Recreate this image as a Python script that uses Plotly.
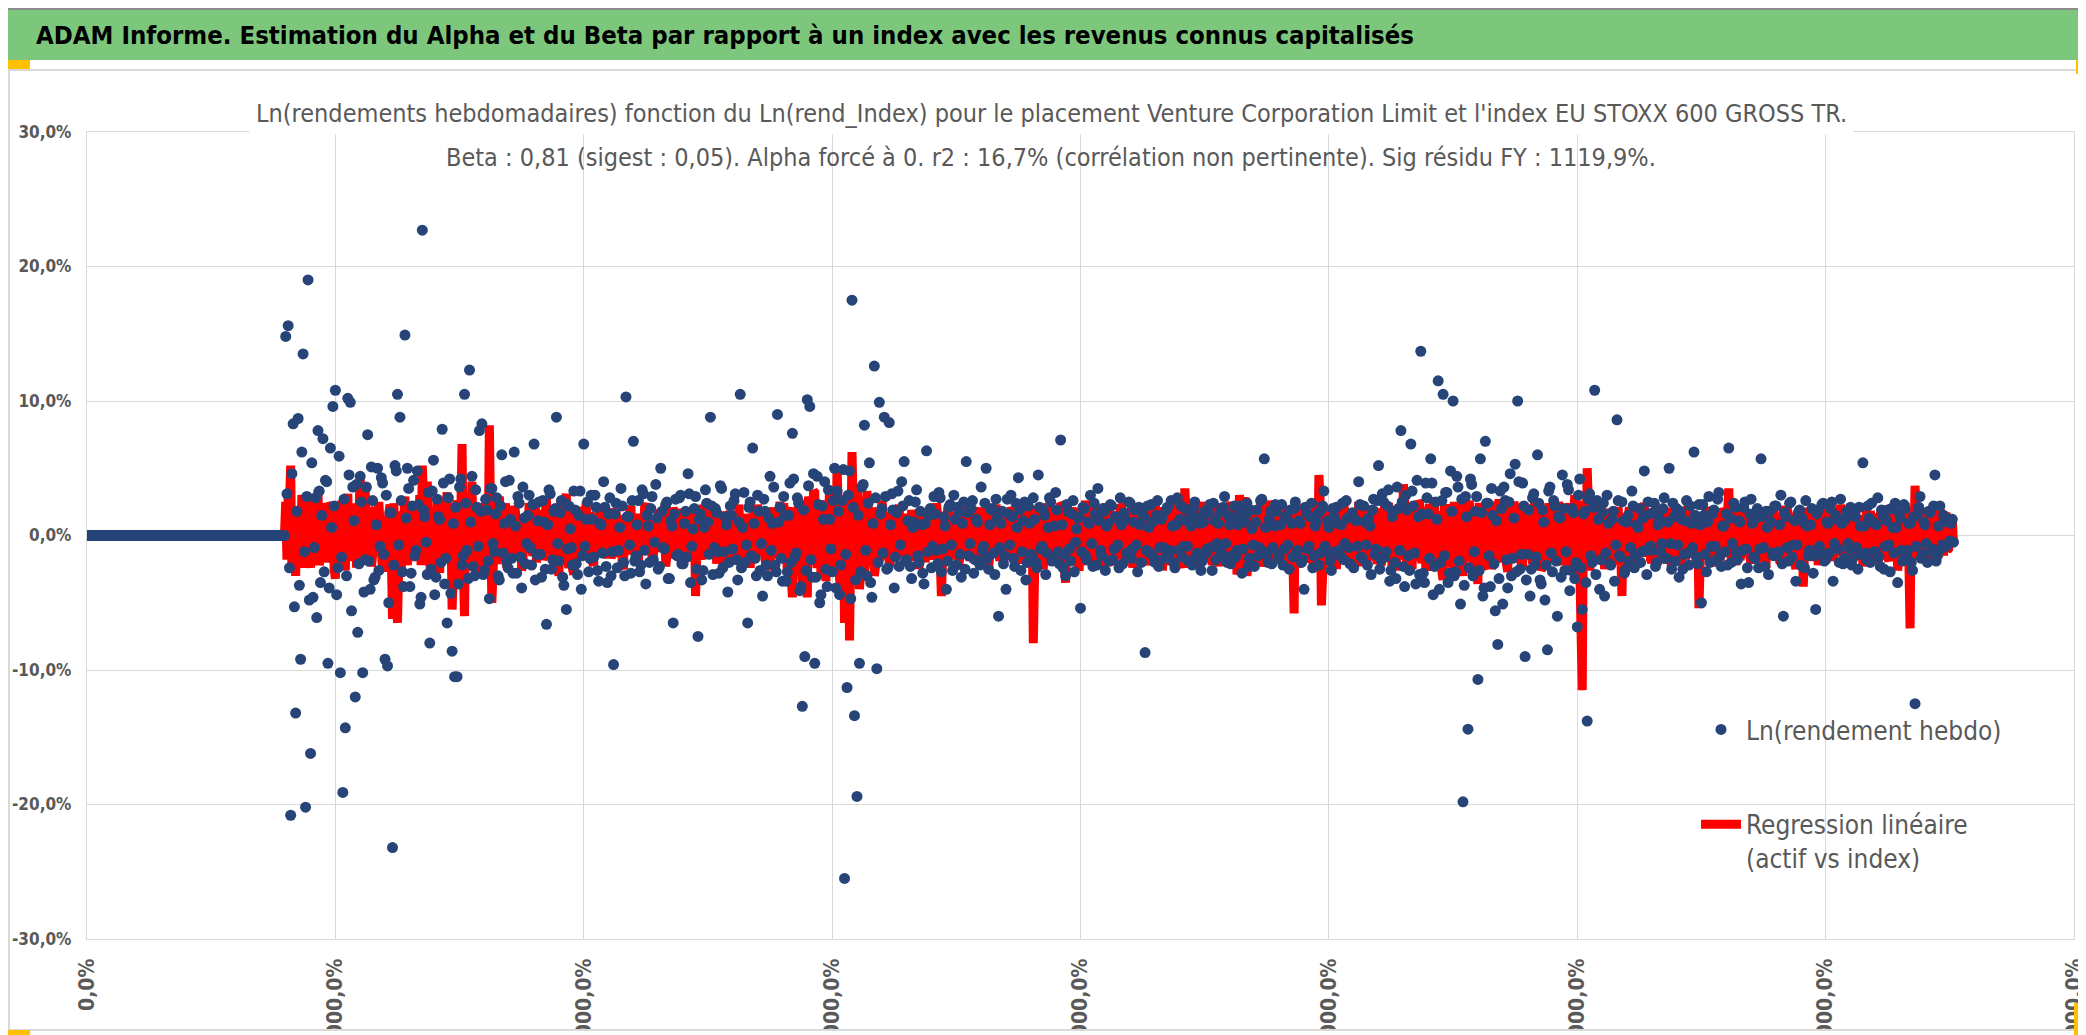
"""ADAM report: weekly log-returns of an asset against an index, with the beta regression line."""

import plotly.graph_objects as go

# ---------------------------------------------------------------- texts
HEADER_TEXT = ("ADAM Informe. Estimation du Alpha et du Beta par rapport à un index "
               "avec les revenus connus capitalisés")
TITLE_LINE_1 = ("Ln(rendements hebdomadaires) fonction du Ln(rend_Index) pour le placement "
                "Venture Corporation Limit et l'index EU STOXX 600 GROSS TR.")
TITLE_LINE_2 = ("Beta : 0,81 (sigest : 0,05). Alpha forcé à 0. r2 : 16,7% "
                "(corrélation non pertinente). Sig résidu FY : 1119,9%.")
NAME_ASSET = "Ln(rendement hebdo)"
NAME_REGRESSION = "Regression linéaire<br>(actif vs index)"

# ---------------------------------------------------------------- axes
Y_TICKS = [-30, -20, -10, 0, 10, 20, 30]
Y_TICK_LABELS = ["-30,0%", "-20,0%", "-10,0%", "0,0%", "10,0%", "20,0%", "30,0%"]
X_TICKS = [0, 200, 400, 600, 800, 1000, 1200, 1400, 1600]
X_TICK_LABELS = ["0,0%", "20000,0%", "40000,0%", "60000,0%", "80000,0%",
                 "100000,0%", "120000,0%", "140000,0%", "160000,0%"]

# ---------------------------------------------------------------- data (in %)
PRE_LISTING_WEEKS = 160    # returns are 0 before the asset has prices

# asset weekly log-returns, even weeks after listing
asset_even_weeks = [
    14.8, 15.6, -20.8, 8.3, -13.2, 8.7, -9.2, 13.5, -20.2, 19.0,
    -16.2, -4.6, 2.8, 7.8, -3.5, 7.2, 4.1, -9.5, 6.5, 9.6,
    10.8, -2.4, -10.2, -19.1, -14.3, 10.2, 9.9, 3.6, -12.0, -7.2,
    4.4, -10.2, -1.8, 7.5, -4.0, 2.6, -3.1, 5.0, -0.8, 3.9,
    -9.2, -9.7, 1.7, -23.2, 5.2, 10.5, 8.8, -2.7, 14.9, 5.0,
    -3.8, 2.2, -1.5, 4.8, -5.1, 22.7, 1.4, -2.9, -8.0, 3.3,
    -4.4, 2.7, 1.2, 7.9, -3.6, -6.5, 4.2, -8.6, -10.5, -10.5,
    3.6, -2.2, 10.5, -1.1, 12.3, 4.4, -3.0, 2.1, 7.8, 8.3,
    -2.6, 1.9, -4.7, 3.5, -1.2, 2.8, -3.3, 6.0, 0.9, -2.0,
    4.1, -1.7, 6.2, -2.8, 2.4, -3.9, 1.3, -0.6, 3.0, -2.2,
    6.8, -1.4, 2.5, -3.1, 1.0, -6.6, 3.4, -2.5, 1.8, 8.8,
    -1.9, 2.6, -3.7, -5.5, 2.2, -0.9, 3.3, -2.1, 1.5, -4.0,
    6.8, 1.2, -2.7, 3.0, -1.6, 2.1, -3.4, 0.8, 4.0, -2.3,
    1.6, -3.0, -9.6, 2.4, -1.1, 3.5, -2.0, 10.3, 1.4, -2.8,
    7.0, -1.5, 2.6, -2.2, 3.1, -3.6, 0.7, 2.0, -1.8, 3.8,
    -2.5, 5.0, -0.9, 2.3, -3.2, 1.1, -6.5, 2.7, -1.4, 3.0,
    -2.1, 1.8, 4.6, -3.5, 0.5, 2.9, -7.5, 1.6, -2.6, 3.4,
    1.0, 8.8, -2.9, 2.0, -1.2, 3.7, -2.4, 1.4, -4.2, 2.2,
    -1.0, 3.1, -3.3, 10.5, 0.6, -2.0, -6.5, 2.5, 6.5, -1.7,
    3.0, -2.6, -4.5, 1.8, -3.0, 4.4, 0.9, -2.2, 9.0, 2.1,
    -3.4, 1.5, -2.7, 3.9, 7.6, -1.6, 2.8, -4.1, -12.7, -9.0,
    10.1, 9.6, -3.1, -9.5, 4.4, -5.0, 2.2, 4.0, -3.8, 1.2,
    -2.7, 5.0, 3.3, -4.4, 2.6, -25.5, -11.3, 4.8, 17.5, -13.4,
    -19.4, -9.5, 3.6, 8.2, -3.0, 5.4, -4.6, 12.6, -9.9, 9.9,
    2.0, 8.8, -2.5, 8.4, 3.1, -3.9, 1.7, -2.3, 4.0, 5.5,
    -1.8, 2.6, -3.2, 1.0, 3.4, -2.0, 0.8, -3.6, 6.3, 1.5,
    -2.4, 2.9, -1.1, 3.2, -2.7, 1.4, -4.0, 2.1, -0.7, 3.0,
    -2.2, 1.7, -3.1, 2.5, 5.5, -1.5, 2.0, -2.8, 1.2, -1.9,
    3.6, -0.8, 5.0, -2.5, 1.9, -1.3, 2.7, -6.0, 0.9, -2.1,
    -4.0, 1.6, 3.0, -1.7, 2.4, 4.3, -2.6, 1.1, -3.3, 2.2,
    -1.4, 2.8, -2.0, 4.5, -1.0, 1.9, -2.9, 0.6, 2.5, -1.6,
    3.2, -1.2, 7.1, -2.4, -3.0, 1.8, -1.9, 2.6, -0.5, 1.3,
    -5.4, 2.1, -1.5, 1.0, 3.0, -2.3, 1.6, 3.5, -1.1, 2.0,
    -2.6, 0.9, 2.3, -1.8, 1.4, -0.7, 2.8, -2.1, 1.2, -1.5,
    2.4, -1.0, 1.9, -2.7, 0.8, 1.6, -8.7, 2.2, -1.3, 1.0,
    -2.0, 2.6, -0.9, 1.5, -1.7, 2.1, -1.1, 0.7, -2.4, 2.8,
    1.2, -1.6, 2.0, -0.8, 1.4, -2.2, 2.5, -1.3, 0.9, -1.9,
    1.8, -1.0, 2.3, -2.6, 1.1, -0.6, 1.7, -1.4, 2.9, -2.0,
    0.8, -1.5, 2.2, -1.1, 1.6, -2.8, 1.0, 2.4, -1.7, 0.5,
    -2.3, 1.9, -0.9, 2.7, 5.7, -1.4, 1.2, -2.1, 0.7, 1.8,
    -1.6, 2.3, -1.0, 1.5, -2.5, 0.9, 2.0, -1.3, 1.1, -2.0,
    -4.0, 1.7, -0.8, 2.4, -1.5, 1.0, -2.2, 1.9, 3.3, -1.2,
    0.6, -2.6, 1.4, 2.1, -1.1, 0.8, -1.8, 2.6, -0.9, 1.5,
    -2.4, 1.1, 4.0, -1.6, 2.2, -0.7, 1.3, -2.9, 2.7, -1.0,
    5.2, -1.8, 2.5, -1.2, 3.4, -2.6, 1.8, -3.2, 2.0, 7.8,
    -2.3, 3.0, -1.5, 6.8, 2.2, -3.6, 1.4, 13.7, -2.8, 3.9,
    1.6, 5.7, -4.4, 2.5, 11.5, -2.0, 10.5, 3.2, -3.5, 4.8,
    10.0, -2.7, 3.6, -5.1, -19.8, 2.9, -14.4, 4.2, -3.0, 1.8,
    -10.7, 5.7, -4.5, 7.0, 2.4, -3.8, 1.5, -5.6, -8.1, 3.3,
    -5.1, 2.6, -3.9, 4.6, -1.7, 5.3, 10.0, -2.5, 3.9, -9.0,
    -1.4, -4.5, 2.8, -2.2, 6.0, -3.3, 1.9, -4.8, -8.5, 3.6,
    -2.7, 2.2, -6.0, 1.3, 4.5, -2.6, 3.8, -4.1, 2.0, -3.2,
    -6.8, 4.2, -5.5, 1.8, -13.8, 3.1, -2.0, 10.8, 2.6, -4.0,
    1.7, -4.5, 3.0, -2.1, 1.2, -3.4, 8.6, -1.5, 2.5, -2.8,
    1.0, -1.9, 3.3, -2.4, 0.8, 2.0, -1.2, 4.8, -2.9, 1.6,
    -1.1, 2.4, -2.0, 1.3, -0.6, 2.8, -1.7, 5.0, -2.5, 1.4,
    2.0, -3.1, 1.2, -1.4, 2.6, -2.2, 0.9, 6.2, -1.6, 2.3,
    -5.0, 1.5, -2.7, 2.9, -0.8, 1.9, -1.8, 3.2, -2.3, 0.7,
    1.6, 6.5, -2.0, 2.4, -1.3, 1.1, -3.6, 2.1, -1.0, -3.5,
    2.7, -1.6, 1.3, -2.4, 5.7, -0.9, 1.8, -2.9, 1.0, -1.5,
    2.2, -1.2, 3.0, -6.0, 1.4, -1.9, 2.5, -0.7, -3.4, 1.7,
    -2.2, 1.0, 2.6, -1.5, 0.8, -2.8, -5.5, 1.9, -1.3, 2.4,
    -1.8, 0.9, 2.0, -3.4, 1.5, -1.0, 2.7, -2.1, 1.2, -0.6,
    2.1, -1.7, 1.4, -2.5, 0.7, 5.4, -1.3, 2.2, -2.0, 1.0,
    -1.2, 2.8, -2.3, 1.5, -0.8, 1.9, -2.7, 0.6, 2.4, -3.5,
    1.3, -1.9, 2.0, -1.1, 0.9, -2.6, -12.5, 1.6, 2.9, -1.4,
    0.8, -2.0, 1.7, -1.0, 4.5, -1.5, 2.2, -0.7, 1.3, 1.0,
    -0.4, 1.2,
]

# asset weekly log-returns, odd weeks after listing
asset_odd_weeks = [
    3.1, -2.4, 4.6, -5.3, 1.8, -3.7, 6.2, -1.2, 2.9, -4.8,
    5.4, -0.9, -6.1, 3.3, 1.5, -2.7, 4.0, -3.9, 0.6, 2.2,
    -4.4, 5.9, -1.6, 2.7, -3.0, 4.5, -5.6, 1.1, 3.8, -2.1,
    2.5, -4.2, 3.6, -1.9, 5.1, -3.3, 0.8, -2.6, 4.3, -1.4,
    3.0, -5.0, 1.7, -2.2, 4.8, -0.7, 2.6, -3.8, 1.3, 3.5,
    -2.8, 4.1, -1.1, 2.3, -4.6, 1.9, -0.5, 3.2, -2.5, 5.6,
    -3.1, 1.4, -2.0, 3.9, -1.7, 2.8, -4.3, 0.9, 2.1, -3.6,
    4.2, -1.5, 2.4, -3.2, 1.0, -2.3, 3.4, -0.8, 1.8, -2.9,
    2.7, -1.9, 3.5, -0.6, 1.6, -3.0, 2.2, -1.3, 4.0, -2.4,
    1.2, -2.8, 0.7, 2.9, -1.6, 3.6, -2.1, 1.5, -0.9, 2.3,
    -3.3, 1.1, -1.4, 2.6, -2.5, 0.8, 3.1, -1.8, 2.0, -0.6,
    1.7, -3.1, 2.4, -1.0, 0.5, -2.2, 1.9, -2.9, 3.3, -1.5,
    -0.8, 2.5, -1.7, 1.2, 3.0, -2.6, 0.9, -1.3, 2.1, -3.5,
    2.8, -1.2, 1.6, -2.4, 0.6, 2.2, -3.0, 1.4, -0.7, 2.6,
    -1.9, 0.8, -2.7, 3.4, -1.1, 1.5, -2.0, 2.9, -0.5, 1.3,
    -2.3, 1.8, -1.0, 2.5, -3.2, 0.7, 1.6, -1.5, 2.8, -2.1,
    0.9, -1.6, 3.1, -0.8, 2.0, -2.5, 1.2, -3.3, 0.6, 2.4,
    -1.4, 2.2, -0.9, 1.7, -2.8, 3.5, -1.2, 0.8, -2.0, 1.5,
    2.6, -1.8, 1.0, -2.4, 3.2, -0.7, 2.1, -1.5, 0.9, -3.0,
    1.8, -0.6, 2.7, -2.2, 1.3, -1.1, 3.6, -2.7, 1.0, -1.7,
    2.9, -3.4, 1.5, -2.0, 4.2, -1.3, 2.4, -3.8, 1.9, -2.6,
    3.7, -1.8, 4.6, -3.1, 2.3, -4.4, 1.2, -2.5, 3.4, -1.0,
    2.6, -3.9, 1.8, -2.2, 4.9, -1.4, 3.0, -4.7, 2.1, -3.3,
    1.5, -2.7, 3.8, -1.1, 2.4, -3.5, 0.9, 2.8, -2.0, 1.6,
    -1.3, 2.9, -2.4, 0.8, 1.9, -1.6, 3.3, -0.7, 2.2, -1.9,
    1.1, -2.3, 0.6, 2.5, -1.5, 1.8, -2.8, 0.9, -1.2, 2.0,
    -0.8, 1.6, -2.1, 2.8, -1.0, 0.7, -1.9, 2.3, -2.6, 1.2,
    2.1, -1.4, 0.9, -2.5, 1.7, -0.6, 2.6, -1.8, 1.0, -2.2,
    -1.1, 2.4, -1.7, 0.8, 2.0, -2.9, 1.3, -0.9, 1.8, -1.5,
    2.7, -0.7, 1.4, -2.3, 0.6, 1.9, -1.2, 2.5, -2.0, 0.9,
    -1.6, 1.2, -2.4, 2.1, -0.8, 1.5, -1.3, 2.8, -1.9, 0.7,
    1.9, -2.1, 0.8, -1.4, 2.3, -1.0, 1.6, -2.7, 0.5, 1.4,
    -1.2, 2.0, -1.8, 0.9, -0.6, 2.4, -2.2, 1.1, -1.5, 1.8,
    0.7, -1.9, 2.2, -1.0, 1.3, -2.4, 0.8, 1.7, -1.3, 2.5,
    -1.7, 1.0, -0.7, 2.1, -2.0, 1.4, -1.1, 0.6, 2.3, -1.6,
    1.5, -2.3, 1.2, -0.9, 1.9, -1.4, 2.6, -2.0, 0.8, -1.1,
    2.2, -0.8, 1.1, -1.9, 0.7, 2.0, -1.5, 1.3, -2.6, 1.0,
    -1.3, 1.7, -0.9, 2.4, -1.8, 0.9, -1.2, 2.1, -0.6, 1.5,
    -2.1, 1.2, -1.6, 0.8, 2.2, -1.0, 1.5, -2.3, 1.9, -0.7,
    1.0, -1.5, 2.6, -1.2, 0.6, -2.0, 1.8, -0.9, 2.3, -1.4,
    0.8, -2.2, 1.3, -0.7, 1.9, -1.6, 2.5, -1.1, 0.9, -1.8,
    2.1, -1.0, 1.4, -2.4, 0.7, 1.6, -1.3, 2.2, -0.8, 1.1,
    -1.9, 2.0, -1.2, 0.9, -1.5, 2.4, -0.6, 1.3, -2.1, 1.7,
    1.2, -0.8, 2.3, -1.7, 1.0, -2.2, 0.7, 1.9, -1.4, 2.6,
    -2.5, 3.1, -1.6, 2.2, -3.4, 1.4, -2.0, 3.6, -1.1, 2.5,
    -3.8, 1.9, -2.6, 3.3, -1.3, 4.1, -2.9, 1.6, -3.5, 2.8,
    -1.7, 3.9, -2.3, 1.2, -4.0, 2.6, -1.5, 3.2, -2.8, 1.8,
    -3.0, 4.4, -1.9, 2.7, -3.7, 1.4, -2.4, 3.8, -1.2, 2.9,
    -2.6, 1.7, -3.9, 2.4, -1.5, 3.5, -2.1, 1.1, -3.2, 2.0,
    3.6, -1.8, 2.5, -3.0, 1.3, -2.7, 4.0, -1.4, 2.2, -3.3,
    1.9, -2.5, 3.1, -1.6, 2.4, -3.6, 1.0, -2.2, 3.3, -1.3,
    2.6, -1.9, 1.4, -3.1, 2.0, -1.2, 3.4, -2.6, 1.7, -2.0,
    3.0, -2.4, 1.6, -3.5, 2.7, -1.5, 2.1, -2.9, 1.2, -1.8,
    2.4, -1.3, 0.9, -2.2, 1.8, -0.7, 2.6, -1.6, 1.1, -2.5,
    1.5, -0.9, 2.2, -1.4, 0.6, -2.0, 1.3, -1.1, 2.5, -0.8,
    1.7, -2.3, 0.8, -1.2, 2.0, -1.7, 1.0, -0.6, 2.4, -1.9,
    -0.7, 1.8, -2.5, 1.1, -1.3, 2.2, -0.9, 1.5, -2.1, 0.8,
    2.3, -1.4, 1.0, -2.0, 1.6, -0.8, 2.7, -1.5, 0.7, -1.2,
    -2.2, 1.3, -0.6, 2.1, -1.8, 1.0, -1.1, 2.5, -2.4, 1.6,
    0.9, -1.7, 2.0, -1.0, 1.4, -2.3, 0.6, 1.8, -1.3, 2.2,
    -1.5, 0.8, -2.1, 1.7, -0.9, 2.4, -1.6, 1.1, -0.7, 1.9,
    1.3, -2.4, 0.7, -1.1, 2.0, -1.5, 1.6, -0.8, 2.3, -1.9,
    1.0, -1.3, 2.5, -0.6, 1.2, -2.0, 0.9, -1.7, 1.8, -1.0,
    -2.2, 1.5, -0.9, 2.1, -1.4, 0.7, -1.8, 1.3, 2.4, -1.2,
    0.8, -1.6, 1.9, -2.5, 1.1, -0.7, 2.0, -1.3, 0.6, 1.7,
    -1.1, 2.3, -1.5, 0.9, -2.0, 1.4, -0.8, 2.1, -1.7, 1.0,
    -0.6, 1.8, -1.2, 2.2, -1.9, 0.7, -1.0, 1.5, -0.8, 1.2,
    0.9, -0.5,
]

# beta x index log-return, even weeks after listing
regression_even_weeks = [
    2.5, 3.0, 5.2, -1.5, -3.0, 1.8, -2.2, 2.6, -1.0, 1.5,
    -2.4, 1.2, -0.8, 3.4, -1.6, 0.9, -2.0, 2.2, -1.1, 1.7,
    -3.2, 2.0, -1.4, 0.8, -2.6, 3.1, 1.0, -1.8, 2.4, -0.9,
    4.5, -1.2, 3.5, -2.1, 0.7, -1.5, 2.1, -0.6, 1.4, -2.7,
    1.1, -1.9, 2.3, -6.2, 0.9, -6.5, 1.8, -1.0, 2.9, -2.2,
    1.3, -0.8, 2.0, -1.7, 3.0, 5.2, -1.4, 4.0, -2.3, 1.6,
    -1.1, 2.5, -2.8, 1.7, -0.9, 3.2, -2.0, -5.5, 1.2, 2.6,
    -3.4, 6.8, -6.0, 1.9, -1.5, 4.0, -2.5, 1.1, -3.0, 2.2,
    -1.3, 2.7, 8.2, -5.0, 1.4, -2.1, 2.9, -1.0, 1.6, -2.4,
    0.8, -1.4, 2.2, -0.7, 1.5, -2.6, 1.0, -1.2, 2.4, -0.9,
    1.3, -2.0, 0.6, 1.9, -1.5, 2.7, -1.1, 0.9, -2.3, 1.6,
    -3.0, 2.8, -1.6, 3.1, -2.4, 1.2, -2.9, 2.0, -0.8, 1.7,
    -1.8, 2.5, -1.0, 1.4, -2.2, 0.7, 1.8, -1.3, 2.1, -0.9,
    1.2, -1.7, 0.8, 2.0, -1.1, 1.5, -2.5, 0.9, -1.4, 2.2,
    -0.7, 1.6, -2.0, 1.1, -1.3, 2.4, -0.9, 1.0, -1.8, 0.6,
    1.9, -1.2, 0.8, -2.3, 1.4, -0.8, 2.1, -1.5, 0.7, -1.9,
    1.3, -1.0, 2.0, -1.6, 0.9, -4.5, 1.5, -1.1, 2.3, -0.8,
    1.1, -1.7, 0.6, 2.2, -1.3, 1.4, -2.1, 0.9, -1.0, 1.8,
    -1.4, 0.7, 2.0, -1.9, 1.2, -0.9, 1.6, -2.4, 1.0, -1.2,
    2.3, -1.5, 0.8, -1.8, 1.4, -2.6, 1.9, -1.1, 0.9, 2.5,
    -2.0, 1.3, -2.8, 2.1, -4.6, 1.5, -3.0, 2.4, -3.8, 1.2,
    -4.6, 2.0, -1.5, 3.2, -2.4, 1.0, -3.1, 2.6, -1.2, 3.5,
    -2.7, 1.8, 5.0, -3.3, 2.2, -6.5, 3.0, -7.8, 6.2, -2.9,
    3.5, -4.0, 2.1, -2.6, 3.3, -1.4, 2.0, -3.0, 1.5, -1.8,
    2.6, -1.1, 1.7, -2.3, 0.9, 1.4, -1.6, 2.2, -1.0, 1.3,
    -2.1, 0.8, 1.9, -1.4, 1.1, -2.5, 1.6, -0.9, 2.0, -1.3,
    1.0, -1.8, 2.4, -1.2, -4.5, 1.5, -1.0, 2.1, -1.6, 0.8,
    1.7, -2.2, 1.2, -0.9, 2.6, -1.5, 1.0, -2.0, 1.4, -1.1,
    2.0, -1.6, 0.9, -2.4, 1.8, -1.0, 2.3, -1.4, 0.7, -2.0,
    1.5, -1.2, 2.1, -1.8, 1.1, -0.8, 2.7, -1.6, 1.3, -2.2,
    0.9, -8.0, 2.0, -1.4, 1.6, -2.5, 1.2, -0.9, 2.2, -1.3,
    1.0, -1.9, 2.4, -1.1, -3.5, 1.7, -1.5, 0.8, 2.0, -2.3,
    1.4, -1.0, 2.6, -1.7, 1.1, -2.1, 1.9, -0.8, 1.3, -1.6,
    2.1, -1.2, 0.9, -2.0, 1.6, -1.4, 2.3, -0.9, 1.2, -1.8,
    1.5, -2.4, 1.0, -1.1, 2.0, -1.6, 0.8, -2.2, 1.7, -1.0,
    2.4, -1.3, 1.1, -2.6, 1.8, -0.9, 1.4, -1.9, 2.2, -1.2,
    1.0, -2.0, 3.5, -1.5, 1.9, -1.1, 2.5, -2.4, 1.3, -0.8,
    2.0, -1.7, 1.2, -2.2, 1.6, -1.0, 2.4, -1.4, 0.9, -2.0,
    1.7, -1.2, 2.2, -2.9, 3.0, -2.5, 2.6, -3.0, 1.4, -1.6,
    2.1, -1.0, 1.5, -2.3, 1.1, -1.8, 2.6, -1.3, 0.8, -2.1,
    1.6, -1.4, 2.0, -1.1, 1.3, -2.4, -5.8, 1.9, -1.2, 2.3,
    -1.5, 1.0, -2.0, 1.7, -1.3, 2.2, 4.5, -5.2, 1.4, -1.9,
    2.0, -1.1, 1.6, -2.5, 0.9, -1.4, 2.3, -1.0, 1.2, -1.7,
    1.8, -1.3, 2.5, -0.9, 1.1, -2.0, 1.5, -1.2, 2.1, -1.6,
    1.3, -2.2, 1.0, -1.5, 2.4, -1.1, 1.7, -2.6, 1.2, 2.0,
    3.8, -1.4, 2.2, -2.0, 1.5, -1.1, 2.6, -1.7, 1.0, -2.3,
    1.9, -1.2, 2.4, -1.6, 1.3, -2.1, -3.3, 2.0, -1.0, 1.6,
    -2.5, 1.2, 2.3, -1.4, -3.0, 2.7, -1.8, 1.1, -2.2, 1.5,
    -3.6, 2.1, -1.3, 1.8, -2.4, 1.0, -1.7, 2.5, -2.0, 1.3,
    -1.2, 2.2, -2.7, 1.6, -1.0, 2.0, -1.5, 1.2, -2.3, 1.9,
    -1.6, 1.1, -2.1, 2.6, -1.3, 1.5, -2.4, 1.0, -2.0, 1.8,
    -1.4, 2.3, -1.1, 1.6, -2.2, 1.2, -1.7, 2.4, -1.0, 3.0,
    -1.5, -7.0, -11.5, 2.0, 5.0, -2.6, 1.8, -1.4, 2.2, -1.8,
    1.4, -2.5, 1.1, -1.6, 2.0, -1.0, 1.7, -2.2, -4.5, 1.3,
    -1.2, 2.1, -1.7, 1.0, -2.3, 1.5, -0.9, 2.4, -1.5, 1.2,
    -2.0, 1.6, -1.1, 2.2, -1.8, 0.9, -1.4, 2.0, -2.4, 1.3,
    -1.0, 1.8, -2.2, 1.1, -1.5, 2.5, -1.2, 0.8, -2.0, -5.4,
    1.6, -1.3, 2.1, -1.7, 1.0, -2.3, 1.4, -0.9, 2.0, -1.5,
    1.2, 3.5, -1.8, 1.5, -2.2, 1.1, -1.4, 2.3, -1.0, 1.7,
    -2.1, 1.3, -1.6, 2.0, -1.2, 0.9, -2.4, 1.5, -1.1, 1.9,
    -1.5, 1.0, -2.0, 2.2, -1.3, 1.6, -0.9, 1.2, -2.5, 1.4,
    -1.7, -3.8, 1.8, -1.2, 2.1, -1.6, 1.0, -2.2, 1.3, -1.0,
    2.0, -1.4, 1.1, -1.9, 1.6, -1.1, 2.3, -1.5, 0.9, -2.0,
    1.4, -1.2, 2.1, -1.7, 1.0, -2.3, 1.5, -0.9, 1.8, -1.4,
    1.2, -2.1, 1.6, -1.0, 2.2, -1.6, 1.1, -1.9, 2.0, -2.6,
    1.3, -1.5, 2.4, -1.9, -6.9, 1.0, 3.7, -1.8, 1.5, -1.2,
    2.0, -1.6, 1.1, -1.3, 1.7, -1.0, 2.2, -0.9, 1.4, -1.1,
    0.6, 1.2,
]

# beta x index log-return, odd weeks after listing
regression_odd_weeks = [
    -1.8, 2.2, -2.6, 1.4, 2.0, -1.2, 3.0, -2.4, 1.1, -1.7,
    2.8, -1.0, 1.9, -2.2, 0.8, -1.4, 2.4, -0.9, 1.6, -2.5,
    1.2, -2.0, 2.6, -1.5, 0.9, -1.9, 2.2, -1.1, -2.4, 1.5,
    -1.6, 2.1, -0.9, 1.3, -2.3, 1.8, -1.2, 2.5, -0.7, 1.0,
    -2.1, 1.6, -1.3, 2.4, -1.8, 1.1, -2.5, 1.9, -0.8, 1.4,
    -1.9, 2.3, -1.0, 1.2, -2.2, 2.7, -0.8, 1.6, -1.4, 2.0,
    -2.4, 1.0, 1.9, -1.5, 2.2, -1.1, 1.4, -2.8, 2.0, -1.2,
    1.6, -2.3, 2.5, -1.0, 1.3, -2.0, 1.7, -1.4, 2.3, -0.9,
    1.9, -1.6, 1.0, -2.5, 2.1, -1.2, 0.8, -1.9, 2.4, -1.3,
    1.5, -1.0, 1.8, -1.7, 0.9, -2.1, 1.4, -0.8, 1.7, -1.5,
    2.2, -1.3, 1.0, -1.8, 1.6, -0.9, 2.0, -1.5, 1.1, -2.2,
    1.8, -1.1, 2.4, -1.9, 1.3, -2.5, 1.0, -1.6, 2.1, -1.2,
    0.9, -1.5, 1.7, -2.0, 1.2, -0.8, 1.9, -1.4, 1.0, -1.7,
    2.0, -1.2, 1.3, -1.6, 0.8, -2.2, 1.5, -1.0, 1.8, -1.3,
    1.1, -1.8, 1.6, -0.9, 2.1, -1.4, 1.0, -1.9, 1.3, -1.1,
    1.7, -1.0, 2.2, -1.5, 0.9, -1.7, 1.4, -1.2, 2.0, -0.8,
    1.2, -1.9, 1.5, -1.1, 2.0, -1.3, 0.8, -1.8, 1.6, -1.4,
    1.9, -0.9, 1.3, -2.1, 1.0, -1.5, 1.8, -1.2, 1.4, -1.7,
    1.0, -1.6, 2.3, -1.0, 1.5, -1.9, 1.1, -1.3, 2.0, -1.5,
    1.3, -1.1, 1.8, -2.2, 0.9, -1.4, 2.1, -1.7, 1.2, -2.0,
    2.4, -1.8, 1.5, -2.9, 2.0, -1.3, 2.7, -2.2, 1.6, -2.6,
    2.9, -2.0, 3.3, -1.5, 2.2, -2.8, 1.8, -3.4, 2.5, -1.9,
    3.0, -2.4, 1.9, -3.6, 2.6, -2.1, 3.2, -2.9, 2.0, -1.5,
    2.4, -2.7, 1.6, -2.0, 2.2, -1.3, 1.8, -2.3, 1.2, -1.6,
    1.9, -1.4, 1.1, -1.8, 1.5, -1.0, 2.0, -1.6, 1.3, -1.2,
    1.6, -1.9, 1.0, -1.3, 1.8, -1.1, 1.4, -2.0, 0.9, -1.5,
    2.0, -1.2, 1.5, -1.7, 1.1, -1.4, 1.9, -1.0, 1.3, -1.8,
    1.2, -1.5, 1.8, -1.1, 0.9, -1.9, 1.4, -1.3, 2.1, -1.0,
    1.5, -1.8, 1.1, -1.4, 1.7, -1.0, 1.3, -1.9, 1.6, -1.2,
    1.0, -1.6, 1.9, -1.2, 1.4, -2.1, 1.2, -1.0, 1.8, -1.5,
    2.2, -2.5, 1.6, -1.9, 2.4, -1.3, 1.8, -2.2, 1.4, -1.7,
    1.9, -1.6, 2.3, -2.0, 1.2, -1.8, 2.1, -1.4, 1.6, -2.3,
    1.7, -2.2, 1.3, -1.9, 2.5, -1.5, 2.0, -1.7, 1.4, -2.4,
    2.3, -1.4, 1.8, -2.1, 1.1, -1.7, 2.2, -1.9, 1.5, -1.3,
    2.0, -1.8, 1.4, -2.3, 1.7, -1.2, 2.4, -1.5, 1.2, -2.0,
    1.6, -2.1, 2.1, -1.4, 1.3, -2.2, 1.9, -1.6, 2.2, -1.1,
    1.8, -2.4, 1.5, -1.7, 2.3, -2.0, 1.2, -1.9, 2.5, -1.4,
    1.4, -1.9, 2.2, -1.6, 1.9, -2.3, 1.6, -1.2, 2.0, -1.8,
    2.5, -2.0, 1.8, -2.4, 2.2, -1.9, 2.8, -2.1, 1.6, -2.2,
    1.9, -1.5, 2.3, -1.8, 1.4, -2.0, 1.7, -1.6, 2.1, -1.3,
    1.5, -2.2, 1.8, -1.4, 2.0, -1.7, 2.6, -2.4, 1.3, -1.9,
    2.2, -1.6, 1.4, -2.1, 1.9, -1.3, 2.5, -2.6, 1.7, -1.5,
    1.8, -1.9, 1.2, -1.6, 2.1, -1.4, 1.7, -2.0, 1.5, -1.2,
    1.6, -2.3, 2.0, -1.5, 1.3, -1.8, 2.2, -1.1, 1.4, -2.1,
    2.0, -1.7, 2.5, -1.9, 1.6, -2.4, 1.9, -1.4, 2.3, -1.8,
    2.6, -2.2, 1.7, -2.5, 2.1, -1.6, 2.4, -2.0, 1.5, -2.3,
    2.3, -1.9, 2.8, -2.1, 1.8, -2.6, 2.0, -2.3, 1.6, -1.8,
    2.5, -2.4, 1.9, -2.8, 2.2, -1.7, 2.6, -2.0, 1.5, -2.2,
    2.1, -1.8, 2.4, -2.3, 1.6, -2.5, 2.0, -1.5, 2.7, -1.9,
    1.8, -2.1, 2.2, -1.6, 2.5, -2.0, 1.7, -2.4, 2.1, -1.5,
    2.3, -1.7, 1.9, -2.2, 1.4, -2.6, 2.0, -1.8, 2.4, -1.6,
    1.7, -2.0, 2.5, -1.5, 2.1, -1.9, 1.6, -2.3, 2.0, -1.4,
    2.6, -3.5, 1.8, -2.4, 2.2, -1.6, 1.9, -2.1, 1.5, -1.8,
    2.0, -1.4, 1.7, -2.0, 1.3, -1.6, 2.1, -1.2, 1.5, -1.9,
    1.4, -1.7, 1.9, -1.1, 1.6, -1.5, 2.0, -1.3, 1.2, -1.8,
    1.7, -1.2, 1.3, -1.9, 1.5, -1.0, 1.8, -1.6, 1.1, -1.4,
    1.9, -1.5, 1.2, -1.7, 2.1, -1.3, 1.6, -1.1, 1.4, -2.0,
    1.3, -1.8, 1.7, -1.2, 1.5, -1.6, 1.1, -1.9, 1.8, -1.3,
    1.6, -1.1, 2.0, -1.5, 1.2, -1.8, 1.7, -1.4, 1.3, -1.6,
    1.8, -1.3, 1.4, -2.0, 1.6, -1.2, 1.9, -1.5, 1.1, -1.7,
    1.5, -1.9, 1.2, -1.4, 2.0, -1.1, 1.6, -1.8, 1.3, -1.5,
    1.7, -1.3, 1.9, -1.6, 1.1, -1.9, 1.5, -1.2, 1.8, -1.4,
    1.2, -1.7, 1.6, -1.1, 1.9, -1.5, 1.3, -2.0, 1.4, -1.2,
    1.8, -1.4, 1.1, -1.8, 1.5, -1.3, 2.0, -1.6, 1.2, -1.9,
    1.6, -1.2, 1.8, -1.5, 1.3, -1.9, 1.7, -1.1, 1.5, -1.6,
    1.9, -2.2, 1.4, -1.7, 2.0, -1.5, 1.6, -1.3, 1.8, -1.4,
    1.3, -1.8, 1.5, -1.2, 1.9, -1.6, 1.1, -1.5, 1.7, -1.0,
    1.1, -0.7,
]

# ---------------------------------------------------------------- geometry helpers
W, H = 2086, 1035
PLOT_L, PLOT_R, PLOT_T, PLOT_B = 79, 2066, 124, 931


def px_x(p):
    return (p - PLOT_L) / (PLOT_R - PLOT_L)


def px_y(p):
    return (PLOT_B - p) / (PLOT_B - PLOT_T)


def weekly(even_weeks, odd_weeks):
    """Zeros before listing, then even and odd weeks merged in date order."""
    values = [0.0] * PRE_LISTING_WEEKS
    for a, b in zip(even_weeks, odd_weeks):
        values += [a, b]
    return list(range(len(values))), values


asset_x, asset_y = weekly(asset_even_weeks, asset_odd_weeks)
reg_x, reg_y = weekly(regression_even_weeks, regression_odd_weeks)

FONT = "DejaVu Sans Condensed, Liberation Sans Narrow, sans-serif"
GREY_TEXT = "#595959"
GRID = "#D9D9D9"

fig = go.Figure()

fig.add_trace(go.Scatter(
    x=reg_x,
    y=reg_y,
    mode="lines",
    line=dict(color="#FF0000", width=9),
    name=NAME_REGRESSION,
    legendrank=2,
    legendgroup="reg",
))

fig.add_trace(go.Scatter(
    x=asset_x,
    y=asset_y,
    mode="markers",
    marker=dict(color="#264478", size=11),
    name=NAME_ASSET,
    legendrank=1,
    legendgroup="asset",
))

# decoration: header band, chart frame, selection handles
shapes = [
    dict(type="rect", xref="paper", yref="paper", layer="below",
         x0=px_x(0), x1=px_x(W), y0=px_y(0), y1=px_y(52),
         fillcolor="#7DC77D", line=dict(width=0)),
    dict(type="line", xref="paper", yref="paper", layer="below",
         x0=px_x(0), x1=px_x(W), y0=px_y(1), y1=px_y(1),
         line=dict(color="#8C8C8C", width=2)),
    dict(type="rect", xref="paper", yref="paper", layer="below",
         x0=px_x(1), x1=px_x(2080), y0=px_y(62), y1=px_y(1022),
         line=dict(color=GRID, width=2)),
    dict(type="rect", xref="paper", yref="paper", layer="above",
         x0=px_x(0), x1=px_x(W), y0=px_y(1023), y1=px_y(H),
         fillcolor="white", line=dict(width=0)),
    dict(type="line", xref="paper", yref="paper", layer="above",
         x0=px_x(0), x1=px_x(2080), y0=px_y(1022), y1=px_y(1022),
         line=dict(color=GRID, width=2)),
    dict(type="line", xref="paper", yref="paper", layer="above",
         x0=px_x(0), x1=px_x(W), y0=px_y(1033), y1=px_y(1033),
         line=dict(color="#8C8C8C", width=2)),
]
for hx0, hy0, hx1, hy1 in [(0, 52, 22, 61), (2068, 52, 2086, 66),
                           (0, 1022, 22, 1032), (2066, 995, 2086, 1032)]:
    shapes.append(dict(type="rect", xref="paper", yref="paper", layer="above",
                       x0=px_x(hx0), x1=px_x(hx1), y0=px_y(hy0), y1=px_y(hy1),
                       fillcolor="#FFC000", line=dict(width=0)))

annotations = [
    dict(text=f"<b>{HEADER_TEXT}</b>", xref="paper", yref="paper",
         x=px_x(26), y=px_y(27), xanchor="left", yanchor="middle", showarrow=False,
         font=dict(family=FONT, size=25.5, color="black")),
    dict(text=TITLE_LINE_1, xref="paper", yref="paper",
         x=px_x(1043), y=px_y(105), xanchor="center", yanchor="middle", showarrow=False,
         bgcolor="white", borderpad=6,
         font=dict(family=FONT, size=25, color=GREY_TEXT)),
    dict(text=TITLE_LINE_2, xref="paper", yref="paper",
         x=px_x(1043), y=px_y(149), xanchor="center", yanchor="middle", showarrow=False,
         font=dict(family=FONT, size=25, color=GREY_TEXT)),
]

fig.update_layout(
    width=W,
    height=H,
    margin=dict(l=PLOT_L, r=W - PLOT_R, t=PLOT_T, b=H - PLOT_B, autoexpand=False),
    paper_bgcolor="white",
    plot_bgcolor="white",
    font=dict(family=FONT, color=GREY_TEXT),
    showlegend=True,
    legend=dict(
        x=px_x(1688), y=px_y(698), xanchor="left", yanchor="top",
        bgcolor="rgba(0,0,0,0)", font=dict(size=26, color=GREY_TEXT),
        itemwidth=40, tracegroupgap=58, valign="top",
    ),
    xaxis=dict(
        range=[0, 1600], tickvals=X_TICKS, ticktext=X_TICK_LABELS,
        tickangle=-90, showgrid=True, gridcolor=GRID, gridwidth=1.3,
        zeroline=False, showline=True, linecolor=GRID, linewidth=1.3, mirror=True,
        ticks="", ticklabelstandoff=10, automargin=False,
        tickfont=dict(family=FONT, size=21, color=GREY_TEXT, weight="bold"),
    ),
    yaxis=dict(
        range=[-30, 30], tickvals=Y_TICKS, ticktext=Y_TICK_LABELS,
        showgrid=True, gridcolor=GRID, gridwidth=1.3,
        zeroline=False, showline=True, linecolor=GRID, linewidth=1.3, mirror=True,
        ticks="", ticklabelstandoff=11, automargin=False,
        tickfont=dict(family=FONT, size=17, color=GREY_TEXT, weight="bold"),
    ),
    shapes=shapes,
    annotations=annotations,
)

fig.write_html("out.html")
